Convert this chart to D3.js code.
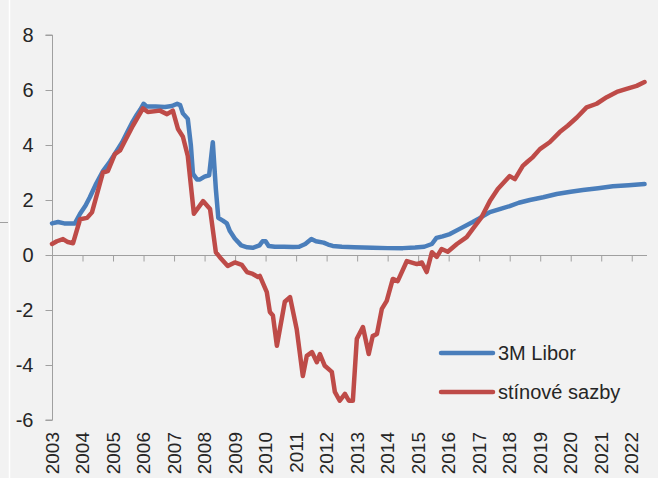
<!DOCTYPE html>
<html>
<head>
<meta charset="utf-8">
<script src="https://cdn.jsdelivr.net/npm/d3@7"></script>
<style>
  body { margin: 0; background: #f2f2f2; }
  svg { display: block; font-family: "Liberation Sans", Arial, sans-serif; }
</style>
</head>
<body>
<div id="chart"></div>
<script>
// year ticks on the category axis
var yearLabels = ['2003','2004','2005','2006','2007','2008','2009','2010','2011','2012',
    '2013','2014','2015','2016','2017','2018','2019','2020','2021','2022'];
var yTicks = [-6, -4, -2, 0, 2, 4, 6, 8];

// 3M Libor [decimal year, %]
var libor = [
    [2003.0,1.15],[2003.2,1.2],[2003.4,1.15],[2003.6,1.15],[2003.75,1.15],[2003.92,1.5],
    [2004.1,1.8],[2004.24,2.1],[2004.45,2.6],[2004.67,3.05],[2004.9,3.4],[2005.13,3.8],
    [2005.3,4.1],[2005.46,4.45],[2005.62,4.8],[2005.78,5.1],[2005.9,5.3],[2006.0,5.5],
    [2006.1,5.4],[2006.4,5.4],[2006.7,5.38],[2006.93,5.42],[2007.1,5.5],[2007.2,5.45],
    [2007.29,5.15],[2007.45,4.95],[2007.55,4.0],[2007.62,2.95],[2007.75,2.75],[2007.85,2.75],
    [2008.0,2.85],[2008.15,2.9],[2008.27,4.1],[2008.37,2.4],[2008.45,1.35],[2008.6,1.25],
    [2008.73,1.15],[2008.83,0.87],[2008.99,0.6],[2009.2,0.35],[2009.4,0.28],[2009.58,0.26],
    [2009.8,0.35],[2009.9,0.5],[2010.0,0.5],[2010.1,0.33],[2010.3,0.3],[2010.6,0.3],
    [2010.9,0.29],[2011.1,0.3],[2011.3,0.4],[2011.5,0.58],[2011.65,0.5],[2011.9,0.45],
    [2012.05,0.38],[2012.2,0.33],[2012.5,0.3],[2012.9,0.28],[2013.5,0.26],[2014.0,0.25],
    [2014.5,0.25],[2014.9,0.27],[2015.2,0.3],[2015.45,0.4],[2015.6,0.62],[2015.8,0.68],
    [2016.04,0.76],[2016.36,0.95],[2016.79,1.2],[2017.0,1.33],[2017.35,1.56],[2017.7,1.68],
    [2018.0,1.78],[2018.3,1.9],[2018.66,2.0],[2019.1,2.1],[2019.54,2.22],[2020.0,2.3],
    [2020.4,2.36],[2020.9,2.43],[2021.38,2.5],[2021.9,2.54],[2022.42,2.58]
];

// stinove sazby (shadow rates) [decimal year, %]
var shadow = [
    [2003.0,0.4],[2003.16,0.5],[2003.36,0.58],[2003.52,0.47],[2003.69,0.43],[2003.92,1.3],
    [2004.15,1.35],[2004.31,1.55],[2004.67,3.0],[2004.83,3.05],[2005.06,3.67],[2005.23,3.8],
    [2005.39,4.15],[2005.65,4.7],[2005.98,5.33],[2006.14,5.2],[2006.54,5.25],[2006.77,5.12],
    [2006.96,5.25],[2007.13,4.58],[2007.29,4.3],[2007.45,3.6],[2007.65,1.5],[2007.95,1.96],
    [2008.18,1.67],[2008.37,0.1],[2008.5,-0.08],[2008.76,-0.4],[2008.99,-0.27],[2009.22,-0.36],
    [2009.39,-0.62],[2009.58,-0.69],[2009.75,-0.8],[2009.81,-0.76],[2010.04,-1.35],[2010.14,-2.07],
    [2010.24,-2.2],[2010.37,-3.3],[2010.63,-1.7],[2010.8,-1.53],[2011.02,-2.7],[2011.22,-4.4],
    [2011.35,-3.67],[2011.52,-3.53],[2011.68,-3.9],[2011.78,-3.6],[2011.94,-4.03],[2012.17,-4.25],
    [2012.27,-4.98],[2012.43,-5.3],[2012.6,-5.05],[2012.73,-5.3],[2012.86,-5.3],[2012.99,-3.05],
    [2013.19,-2.62],[2013.38,-3.6],[2013.51,-2.95],[2013.65,-2.87],[2013.81,-1.96],[2013.97,-1.67],
    [2014.17,-0.87],[2014.33,-0.95],[2014.63,-0.22],[2014.96,-0.33],[2015.12,-0.27],[2015.28,-0.62],
    [2015.45,0.1],[2015.61,-0.07],[2015.77,0.22],[2015.97,0.12],[2016.27,0.4],[2016.59,0.65],
    [2016.79,0.95],[2017.08,1.38],[2017.35,1.96],[2017.61,2.4],[2018.0,2.87],[2018.17,2.76],
    [2018.43,3.24],[2018.59,3.4],[2018.76,3.56],[2018.99,3.85],[2019.31,4.1],[2019.64,4.47],
    [2019.9,4.7],[2020.2,5.0],[2020.52,5.37],[2020.85,5.5],[2021.18,5.74],[2021.51,5.93],
    [2021.83,6.04],[2022.16,6.15],[2022.42,6.29]
];

var seriesNames = ['3M Libor', 'stínové sazby'];
var seriesColors = ['#4a7ebb', '#be4b48'];

var svgWidth = 658;
var svgHeight = 478;

var svg = d3.select('#chart')
    .append('svg')
    .attr('width', svgWidth)
    .attr('height', svgHeight);

svg.append('rect')
    .attr('width', svgWidth)
    .attr('height', svgHeight)
    .attr('fill', '#f2f2f2');

// leftover frame bits at the left edge of the picture
svg.append('line')
    .attr('x1', 9.5).attr('x2', 9.5)
    .attr('y1', 0).attr('y2', svgHeight)
    .attr('stroke', '#ffffff').attr('stroke-width', 1.5);
svg.append('line')
    .attr('x1', 0).attr('x2', 8)
    .attr('y1', 222.5).attr('y2', 222.5)
    .attr('stroke', '#a0a0a0');

var xScale = d3.scaleLinear()
    .domain([2003, 2022.5])
    .range([52, 647]);

var yScale = d3.scaleLinear()
    .domain([-6, 8])
    .range([420, 35]);

var axisColor = '#a0a0a0';
var textColor = '#262626';

// y axis
var yAxis = d3.axisLeft(yScale)
    .tickValues(yTicks)
    .tickSize(7)
    .tickPadding(12)
    .tickFormat(d3.format('d'));

var yG = svg.append('g')
    .attr('transform', 'translate(52.5,0)')
    .call(yAxis);
yG.select('.domain').attr('stroke', axisColor).attr('d', 'M-7,' + yScale(8) + 'H0V' + yScale(-6) + 'H-7');
yG.selectAll('.tick line').attr('stroke', axisColor);
yG.selectAll('.tick text')
    .attr('font-size', 20)
    .attr('fill', textColor)
    .attr('font-family', '"Liberation Sans", Arial, sans-serif')
    .text(d => d < 0 ? '-' + Math.abs(d) : d);

// x axis on the zero line
var xAxis = d3.axisBottom(xScale)
    .tickValues(d3.range(2004, 2023))
    .tickSize(6)
    .tickFormat('');

var xG = svg.append('g')
    .attr('transform', `translate(0,${yScale(0) + 0.5})`)
    .call(xAxis);
xG.select('.domain').attr('stroke', axisColor).attr('d', 'M52,0H647');
xG.selectAll('.tick line').attr('stroke', axisColor);

// year labels at the bottom
svg.selectAll('text.year')
    .data(yearLabels)
    .enter()
    .append('text')
    .attr('class', 'year')
    .attr('transform', d => `translate(${xScale(+d) + 6.5},432) rotate(-90)`)
    .attr('text-anchor', 'end')
    .attr('font-size', 19)
    .attr('fill', textColor)
    .text(d => d);

var line = d3.line()
    .x(d => xScale(d[0]))
    .y(d => yScale(d[1]));

svg.append('path')
    .datum(libor)
    .attr('d', line)
    .attr('fill', 'none')
    .attr('stroke', seriesColors[0])
    .attr('stroke-width', 4.5)
    .attr('stroke-linejoin', 'round')
    .attr('stroke-linecap', 'round');

svg.append('path')
    .datum(shadow)
    .attr('d', line)
    .attr('fill', 'none')
    .attr('stroke', seriesColors[1])
    .attr('stroke-width', 4.5)
    .attr('stroke-linejoin', 'round')
    .attr('stroke-linecap', 'round');

// legend
var legend = svg.selectAll('g.legend')
    .data(seriesNames)
    .enter()
    .append('g')
    .attr('class', 'legend')
    .attr('transform', (d, i) => `translate(440,${353 + i * 39})`);

legend.append('line')
    .attr('x1', 1).attr('x2', 53)
    .attr('stroke', (d, i) => seriesColors[i])
    .attr('stroke-width', 4.5)
    .attr('stroke-linecap', 'round');

legend.append('text')
    .attr('x', 58)
    .attr('y', 7)
    .attr('font-size', 20)
    .attr('fill', textColor)
    .text(d => d);
</script>
</body>
</html>
